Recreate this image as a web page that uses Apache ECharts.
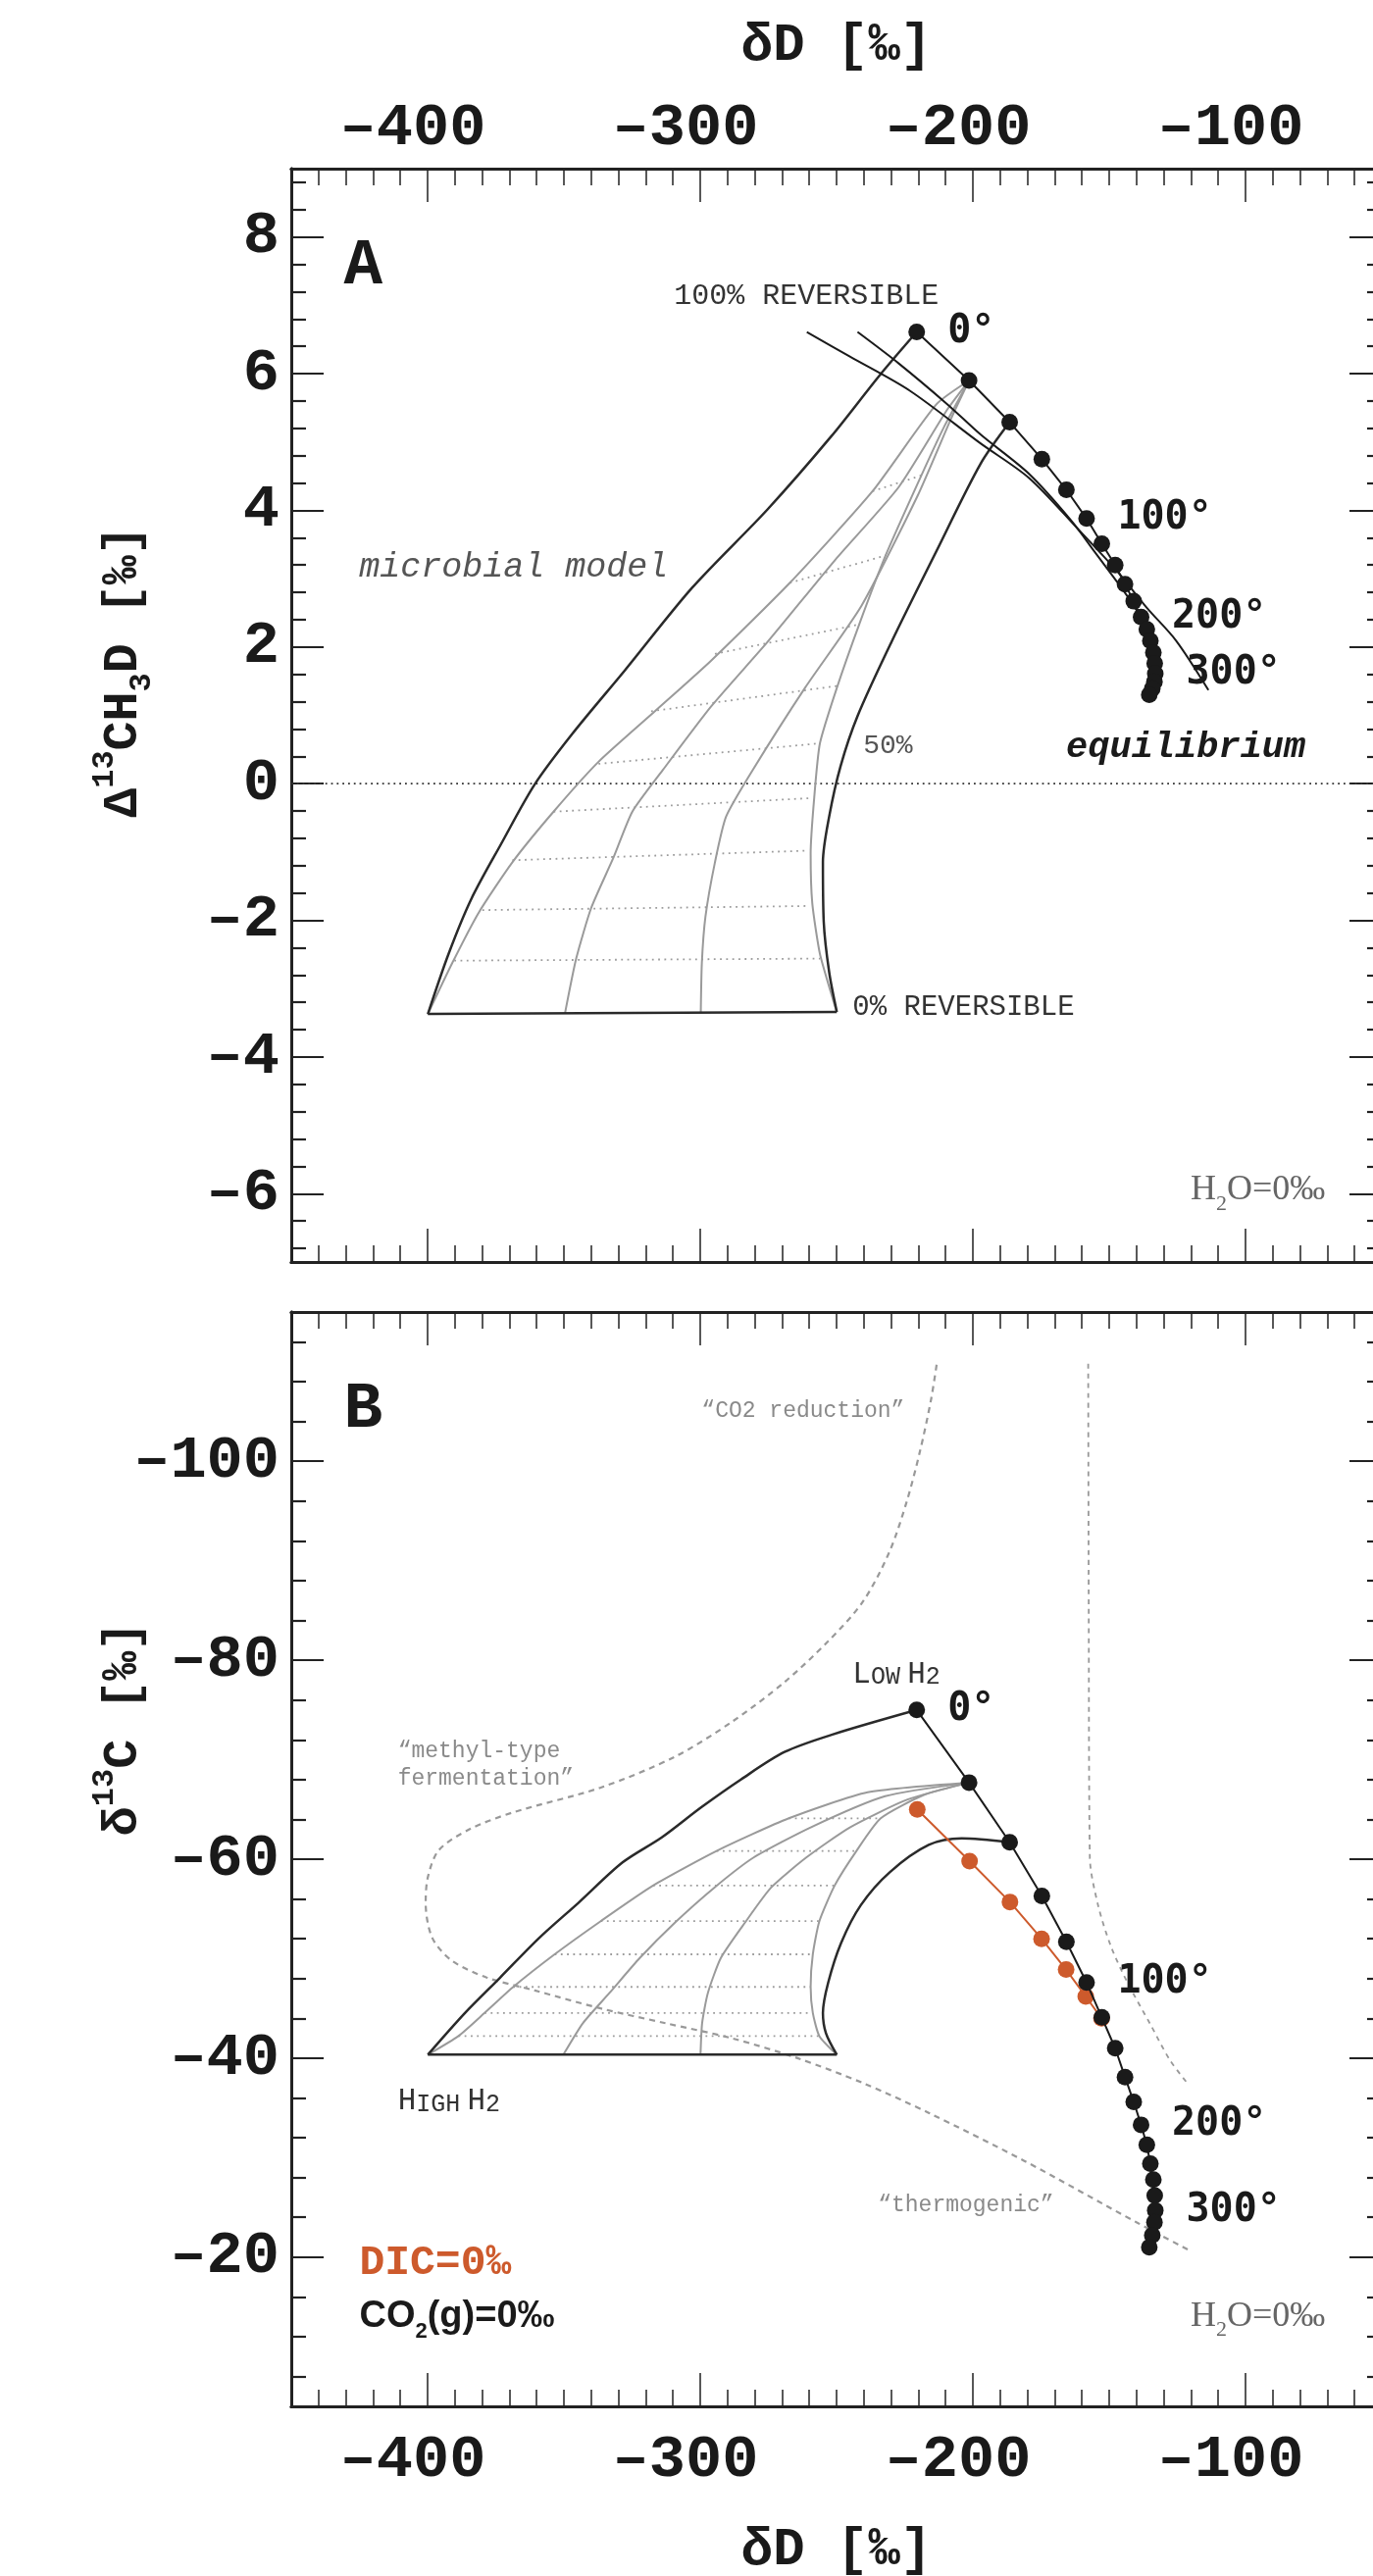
<!DOCTYPE html>
<html>
<head>
<meta charset="utf-8">
<script src="https://cdn.jsdelivr.net/npm/echarts@6/dist/echarts.min.js"></script>
<style>
html, body { margin: 0; padding: 0; background: #fff; }
#wrap { width: 1400px; height: 2627px; }
</style>
</head>
<body>
<div id="wrap"></div>
<script>
var MONO = 'Liberation Mono';

// axes
var xMin = -450, xMax = -50;
var xMajor = [-400, -300, -200, -100];
var aYMin = -7, aYMax = 9;
var aYMajor = [-6, -4, -2, 0, 2, 4, 6, 8];
var bYMin = -115, bYMax = -5;
var bYMajor = [-100, -80, -60, -40, -20];

// equilibrium points, 0..360 C every 20 C
var eqDD = [-220.6, -201.4, -186.5, -174.7, -165.7, -158.3, -152.7, -147.8, -144.2, -141.0,
            -138.3, -136.2, -134.9, -133.8, -133.3, -133.1, -133.4, -134.2, -135.3];
var eqCap = [6.61, 5.90, 5.29, 4.75, 4.30, 3.88, 3.51, 3.20, 2.92, 2.67,
             2.44, 2.26, 2.09, 1.92, 1.76, 1.61, 1.49, 1.39, 1.30];
var eqC13 = [-75.0, -67.7, -61.7, -56.3, -51.7, -47.6, -44.1, -41.0, -38.1, -35.6,
             -33.3, -31.3, -29.4, -27.8, -26.2, -24.7, -23.5, -22.2, -21.0];
var tempIdx = [0, 5, 10, 15];
var tempText = ['0°', '100°', '200°', '300°'];

// DIC = 0 permil series (panel B)
var dicDD = [-220.4, -201.2, -186.4, -174.8, -165.8, -158.6, -152.8];
var dicC13 = [-65.0, -59.8, -55.7, -52.0, -48.9, -46.2, -44.0];

// panel A: microbial model envelope
var aLeft = [[-220.6, 6.61], [-234.1, 5.98], [-252.0, 5.08], [-275.4, 4.01], [-302.9, 2.87], [-327.6, 1.66],
             [-346.9, 0.73], [-360.7, -0.01], [-373.0, -0.88], [-384.0, -1.69], [-392.3, -2.49], [-399.9, -3.37]];
var aRight = [[-186.5, 5.29], [-197.2, 4.68], [-213.4, 3.40], [-229.9, 2.07], [-242.3, 0.99], [-248.5, 0.26],
              [-252.7, -0.48], [-255.0, -1.15], [-254.7, -2.02], [-252.7, -2.76], [-249.9, -3.34]];
var aBottom = [[-399.9, -3.37], [-249.9, -3.34]];
var aFan1 = [[-201.4, 5.90], [-213.4, 5.55], [-236.8, 4.28], [-267.1, 2.94], [-296.0, 1.80], [-316.6, 1.06],
             [-337.3, 0.32], [-353.8, -0.41], [-368.9, -1.15], [-381.3, -1.89], [-390.9, -2.62], [-399.9, -3.37]];
var aFan2 = [[-201.4, 5.90], [-209.3, 5.48], [-227.2, 4.34], [-250.6, 3.27], [-275.4, 2.07], [-296.0, 1.13],
             [-313.9, 0.19], [-324.9, -0.41], [-331.8, -1.08], [-340.0, -1.82], [-345.5, -2.56], [-349.6, -3.36]];
var aFan3 = [[-201.4, 5.90], [-207.9, 5.35], [-220.3, 4.21], [-240.9, 2.60], [-261.6, 1.40], [-280.9, 0.19],
             [-290.5, -0.48], [-294.6, -1.15], [-298.1, -1.95], [-299.4, -2.62], [-299.8, -3.35]];
var aFan4 = [[-201.4, 5.90], [-210.7, 5.21], [-218.9, 4.51], [-232.0, 3.34], [-241.7, 2.33], [-249.9, 1.40],
             [-256.1, 0.59], [-258.2, -0.21], [-259.5, -1.02], [-258.9, -1.75], [-256.1, -2.49], [-251.3, -3.16], [-249.9, -3.34]];
var aIso = [
  [[-236.8, 4.28], [-218.9, 4.51]],
  [[-267.1, 2.94], [-232.0, 3.34]],
  [[-294.6, 1.90], [-241.7, 2.33]],
  [[-318.0, 1.06], [-249.9, 1.43]],
  [[-337.3, 0.29], [-256.1, 0.59]],
  [[-353.8, -0.41], [-258.8, -0.21]],
  [[-368.9, -1.12], [-260.2, -0.98]],
  [[-379.9, -1.85], [-260.2, -1.79]],
  [[-390.2, -2.59], [-256.1, -2.56]]
];
// 100% reversible curves
var aRev1 = [[-260.9, 6.61], [-245.1, 6.25], [-223.1, 5.75], [-197.2, 4.98], [-179.3, 4.47], [-161.3, 3.72],
             [-146.9, 3.10], [-136.1, 2.57], [-125.4, 2.09], [-113.6, 1.37]];
var aRev2 = [[-242.3, 6.61], [-227.2, 6.15], [-209.3, 5.55], [-197.2, 5.11], [-179.3, 4.53], [-163.7, 3.84],
             [-155.3, 3.39], [-144.5, 2.81], [-139.7, 2.52], [-137.0, 2.33]];

// panel B
var bLeft = [[-220.6, -75.0], [-251.5, -72.53], [-269.1, -70.77], [-285.2, -67.99], [-299.6, -65.22], [-314.1, -62.19],
             [-328.5, -59.67], [-344.6, -55.63], [-359.0, -52.10], [-373.5, -48.07], [-386.3, -44.54], [-399.9, -40.35]];
var bRight = [[-186.5, -61.7], [-204.1, -62.09], [-216.2, -61.43], [-230.6, -58.66], [-241.1, -55.38], [-248.3, -51.60],
              [-253.1, -47.56], [-255.0, -44.54], [-253.9, -42.52], [-249.9, -40.35]];
var bBottom = [[-399.9, -40.35], [-249.9, -40.35]];
var bFan1 = [[-201.4, -67.7], [-238.6, -66.73], [-267.5, -64.11], [-294.0, -60.83], [-317.3, -57.35], [-336.5, -53.77],
             [-353.4, -50.44], [-368.6, -47.16], [-379.1, -44.54], [-388.7, -42.22], [-399.9, -40.35]];
var bFan2 = [[-201.4, -67.7], [-232.2, -66.33], [-259.5, -63.20], [-280.4, -60.17], [-294.8, -57.15], [-309.3, -53.62],
             [-322.1, -50.09], [-333.3, -46.55], [-343.0, -43.53], [-350.2, -40.35]];
var bFan3 = [[-201.4, -67.7], [-224.2, -65.97], [-245.1, -63.20], [-261.1, -60.17], [-274.0, -57.15], [-283.6, -53.62],
             [-292.4, -50.09], [-297.2, -46.55], [-299.3, -43.53], [-299.9, -40.35]];
var bFan4 = [[-201.4, -67.7], [-217.8, -66.48], [-233.8, -64.11], [-242.7, -60.83], [-250.7, -57.35], [-256.3, -53.77],
             [-258.7, -50.44], [-259.5, -47.16], [-258.7, -44.54], [-256.3, -42.22], [-249.9, -40.35]];
var bIso = [
  [[-267.5, -64.11], [-233.8, -64.11]],
  [[-294.0, -60.83], [-242.7, -60.83]],
  [[-317.3, -57.35], [-250.7, -57.35]],
  [[-336.5, -53.77], [-256.3, -53.77]],
  [[-353.4, -50.44], [-258.7, -50.44]],
  [[-368.6, -47.16], [-259.5, -47.16]],
  [[-379.1, -44.54], [-258.7, -44.54]],
  [[-388.7, -42.22], [-256.3, -42.22]]
];
// field boundaries
var co2Field = [[-213.3, -109.7], [-215.4, -106.1], [-219.4, -101.0], [-224.2, -96.0], [-230.6, -90.9], [-240.3, -85.9],
                [-253.1, -81.9], [-269.1, -77.8], [-288.4, -73.8], [-309.3, -70.3], [-336.5, -67.2], [-368.7, -64.7],
                [-384.7, -63.0], [-395.9, -60.9], [-399.9, -58.2], [-400.7, -55.6], [-398.3, -52.1], [-391.1, -49.8],
                [-378.3, -48.1], [-360.6, -46.8], [-336.5, -45.0], [-312.5, -43.5], [-288.4, -42.0], [-264.3, -40.0],
                [-240.3, -37.5], [-216.2, -34.5], [-181.3, -29.7], [-140.0, -23.5], [-120.7, -20.7]];
var thermoField = [[-157.7, -109.8], [-157.5, -85.0], [-157.1, -60.2], [-154.1, -55.4], [-149.3, -51.2],
                   [-143.3, -47.6], [-134.9, -43.4], [-127.7, -39.8], [-120.8, -37.3]];

function steps(lo, hi, step, skip) {
  var out = [];
  for (var v = lo; v <= hi + 1e-9; v += step) {
    var r = Math.round(v * 100) / 100;
    if (skip.indexOf(r) < 0) out.push(r);
  }
  return out;
}
var xMinor = steps(-440, -60, 10, xMajor);
var aYMinor = steps(-6.8, 8.8, 0.4, aYMajor);
var bYMinor = steps(-112, -8, 4, bYMajor);

function dash(v) { return v < 0 ? '\u2013' + Math.abs(v) : String(v); }

function axis(dim, gi, pos, lo, hi, ticks, len, label, inverse) {
  var a = {
    type: 'value', gridIndex: gi, position: pos, min: lo, max: hi, inverse: !!inverse,
    axisLine: { show: true, onZero: false, lineStyle: { color: '#222', width: 3 } },
    axisTick: { show: true, inside: true, length: len, customValues: ticks,
      lineStyle: { color: '#222', width: dim === 'x' ? 1.5 : 2.2 } },
    axisLabel: { show: false },
    splitLine: { show: false }
  };
  if (label) {
    a.axisLabel = { show: true, customValues: ticks, margin: label, formatter: dash,
      fontFamily: MONO, fontWeight: 'bold', fontSize: 62, color: '#1a1a1a',
      padding: dim === 'x' ? [0, 30, 0, 0] : 0 };
  }
  return a;
}

var xTitle = { fontFamily: MONO, fontWeight: 'bold', fontSize: 54, color: '#1a1a1a' };
var xAxes = [
  axis('x', 0, 'top', xMin, xMax, xMajor, 34, 10),
  axis('x', 0, 'top', xMin, xMax, xMinor, 17),
  axis('x', 0, 'bottom', xMin, xMax, xMajor, 34),
  axis('x', 0, 'bottom', xMin, xMax, xMinor, 17),
  axis('x', 1, 'bottom', xMin, xMax, xMajor, 34, 24),
  axis('x', 1, 'bottom', xMin, xMax, xMinor, 17),
  axis('x', 1, 'top', xMin, xMax, xMajor, 34),
  axis('x', 1, 'top', xMin, xMax, xMinor, 17)
];
xAxes[0].name = 'δD [‰]'; xAxes[0].nameLocation = 'middle'; xAxes[0].nameGap = 98; xAxes[0].nameTextStyle = xTitle;
xAxes[4].name = 'δD [‰]'; xAxes[4].nameLocation = 'middle'; xAxes[4].nameGap = 120; xAxes[4].nameTextStyle = xTitle;

var yAxes = [
  axis('y', 0, 'left', aYMin, aYMax, aYMajor, 33, 12),
  axis('y', 0, 'left', aYMin, aYMax, aYMinor, 15),
  axis('y', 0, 'right', aYMin, aYMax, aYMajor, 33),
  axis('y', 0, 'right', aYMin, aYMax, aYMinor, 15),
  axis('y', 1, 'left', bYMin, bYMax, bYMajor, 33, 12, true),
  axis('y', 1, 'left', bYMin, bYMax, bYMinor, 15, 0, true),
  axis('y', 1, 'right', bYMin, bYMax, bYMajor, 33, 0, true),
  axis('y', 1, 'right', bYMin, bYMax, bYMinor, 15, 0, true)
];

function curve(gi, pts, color, width, type, z, smooth) {
  return {
    type: 'line', xAxisIndex: gi * 4, yAxisIndex: gi * 4, data: pts, symbol: 'none',
    smooth: smooth || 0, silent: true, z: z,
    lineStyle: { color: color, width: width, type: type || 'solid' }
  };
}

var tempLabel = { show: false, position: 'right', distance: 23,
  fontFamily: 'DejaVu Sans Mono', fontWeight: 'bold', fontSize: 40, color: '#1a1a1a' };

function dots(gi, xs, ys, color, labelled, z) {
  var data = xs.map(function (x, i) {
    var item = { value: [x, ys[i]] };
    var k = tempIdx.indexOf(i);
    if (labelled && k >= 0) item.label = { show: true, formatter: tempText[k] };
    return item;
  });
  return {
    type: 'line', xAxisIndex: gi * 4, yAxisIndex: gi * 4, data: data, silent: true, z: z,
    symbol: 'circle', symbolSize: 17, showSymbol: true,
    itemStyle: { color: color, borderWidth: 0, opacity: 1 },
    lineStyle: { color: color, width: 2 },
    label: tempLabel
  };
}

function notes(gi, items) {
  return {
    type: 'scatter', xAxisIndex: gi * 4, yAxisIndex: gi * 4, silent: true, z: 10,
    symbolSize: 1, itemStyle: { color: 'rgba(0,0,0,0)', opacity: 1 },
    label: { show: true, position: 'right', distance: 0 },
    data: items.map(function (n) {
      var lab = { show: true, position: 'right', distance: 0, formatter: n.text };
      for (var key in n.style) lab[key] = n.style[key];
      return { value: n.at, label: lab };
    })
  };
}

var letterStyle = { fontFamily: MONO, fontWeight: 'bold', fontSize: 66, color: '#1a1a1a' };
var capsStyle = { fontFamily: MONO, fontSize: 29, color: '#333' };
var quoteStyle = { fontFamily: MONO, fontSize: 23, color: '#8a8a8a', lineHeight: 28 };
var h2oStyle = { color: '#666', rich: {
  a: { fontFamily: 'Liberation Serif', fontSize: 36, color: '#666', lineHeight: 50, verticalAlign: 'middle' },
  s: { fontFamily: 'Liberation Serif', fontSize: 22, color: '#666', lineHeight: 24, verticalAlign: 'bottom' } } };
var smallCaps = { rich: {
  L: { fontFamily: MONO, fontSize: 31, color: '#333', lineHeight: 30, verticalAlign: 'bottom' },
  s: { fontFamily: MONO, fontSize: 25, color: '#333', lineHeight: 26, verticalAlign: 'bottom' } } };

var notesA = [
  { at: [-430.9, 7.56], text: 'A', style: letterStyle },
  { at: [-309.8, 7.13], text: '100% REVERSIBLE', style: { fontFamily: MONO, fontSize: 30, color: '#333' } },
  { at: [-425.3, 3.17], text: 'microbial model', style: { fontFamily: MONO, fontStyle: 'italic', fontSize: 35, color: '#555' } },
  { at: [-240.4, 0.56], text: '50%', style: { fontFamily: MONO, fontSize: 28, color: '#555' } },
  { at: [-244.3, -3.28], text: '0% REVERSIBLE', style: capsStyle },
  { at: [-166.0, 0.53], text: 'equilibrium', style: { fontFamily: MONO, fontStyle: 'italic', fontWeight: 'bold', fontSize: 37, color: '#1a1a1a' } },
  { at: [-120.3, -5.95], text: '{a|H}{s|2}{a|O=0‰}', style: h2oStyle }
];
var notesB = [
  { at: [-430.9, -105.1], text: 'B', style: letterStyle },
  { at: [-299.7, -105.1], text: '\u201cCO2 reduction\u201d', style: quoteStyle },
  { at: [-411.1, -69.5], text: '\u201cmethyl-type\nfermentation\u201d', style: quoteStyle },
  { at: [-244.3, -78.5], text: '{L|L}{s|OW} {L|H}{s|2}', style: smallCaps },
  { at: [-411.1, -35.6], text: '{L|H}{s|IGH} {L|H}{s|2}', style: smallCaps },
  { at: [-235.0, -25.2], text: '\u201cthermogenic\u201d', style: quoteStyle },
  { at: [-425.2, -19.4], text: 'DIC=0‰', style: { fontFamily: MONO, fontWeight: 'bold', fontSize: 43, color: '#cd5a2c' } },
  { at: [-425.2, -14.0], text: '{a|CO}{s|2}{a|(g)=0‰}', style: { rich: {
      a: { fontFamily: 'Liberation Sans', fontWeight: 'bold', fontSize: 38, color: '#1a1a1a', lineHeight: 52, verticalAlign: 'middle' },
      s: { fontFamily: 'Liberation Sans', fontWeight: 'bold', fontSize: 22, color: '#1a1a1a', lineHeight: 24, verticalAlign: 'bottom' } } } },
  { at: [-120.3, -14.0], text: '{a|H}{s|2}{a|O=0‰}', style: h2oStyle }
];

var BLACK = '#2a2a2a', GRAY = '#9a9a9a', ISO = '#9c9c9c', ORANGE = '#cd5a2c';

var series = [
  // panel A
  curve(0, [[xMin, 0], [xMax, 0]], '#333', 1.8, [1.8, 4], 1)
];
aIso.forEach(function (seg) { series.push(curve(0, seg, ISO, 1.8, [1.8, 4.5], 1)); });
[aFan1, aFan2, aFan3, aFan4].forEach(function (c) { series.push(curve(0, c, GRAY, 2, 'solid', 2, 0.2)); });
series.push(curve(0, aLeft, BLACK, 2.5, 'solid', 3, 0.3));
series.push(curve(0, aRight, BLACK, 2.5, 'solid', 3, 0.3));
series.push(curve(0, aBottom, BLACK, 2.5, 'solid', 3));
series.push(curve(0, aRev1, '#1a1a1a', 2, 'solid', 3, 0.3));
series.push(curve(0, aRev2, '#1a1a1a', 2, 'solid', 3, 0.3));
series.push(dots(0, eqDD, eqCap, '#1a1a1a', true, 5));
series.push(notes(0, notesA));

// panel B
series.push(curve(1, co2Field, '#999', 2.2, [6, 5], 1, 0.3));
series.push(curve(1, thermoField, '#999', 1.8, [5, 5], 1, 0.3));
bIso.forEach(function (seg) { series.push(curve(1, seg, ISO, 1.8, [1.8, 4.5], 1)); });
[bFan1, bFan2, bFan3, bFan4].forEach(function (c) { series.push(curve(1, c, GRAY, 2, 'solid', 2, 0.2)); });
series.push(curve(1, bLeft, BLACK, 2.5, 'solid', 3, 0.3));
series.push(curve(1, bRight, BLACK, 2.5, 'solid', 3, 0.3));
series.push(curve(1, bBottom, BLACK, 2.5, 'solid', 3));
series.push(dots(1, dicDD, dicC13, ORANGE, false, 4));
series.push(dots(1, eqDD, eqC13, '#1a1a1a', true, 5));
series.push(notes(1, notesB));

var titleRich = {
  b: { fontFamily: MONO, fontWeight: 'bold', fontSize: 50, lineHeight: 70, verticalAlign: 'middle', fill: '#1a1a1a' },
  sup: { fontFamily: MONO, fontWeight: 'bold', fontSize: 32, lineHeight: 30, verticalAlign: 'top', fill: '#1a1a1a' },
  sub: { fontFamily: MONO, fontWeight: 'bold', fontSize: 32, lineHeight: 30, verticalAlign: 'bottom', fill: '#1a1a1a' }
};

var option = {
  animation: false,
  backgroundColor: '#fff',
  textStyle: { fontFamily: MONO },
  grid: [
    { left: 297, top: 172, width: 1112, height: 1115, outerBoundsMode: 'none', containLabel: false },
    { left: 297, top: 1338, width: 1112, height: 1116, outerBoundsMode: 'none', containLabel: false }
  ],
  xAxis: xAxes,
  yAxis: yAxes,
  graphic: [
    { type: 'text', x: 126, y: 685, rotation: Math.PI / 2, silent: true,
      style: { text: '{b|\u0394}{sup|13}{b|CH}{sub|3}{b|D [‰]}', align: 'center', verticalAlign: 'middle', rich: titleRich } },
    { type: 'text', x: 126, y: 1763, rotation: Math.PI / 2, silent: true,
      style: { text: '{b|δ}{sup|13}{b|C [‰]}', align: 'center', verticalAlign: 'middle', rich: titleRich } }
  ],
  series: series
};

var myChart = echarts.init(document.getElementById('wrap'));
myChart.setOption(option);
</script>
</body>
</html>
